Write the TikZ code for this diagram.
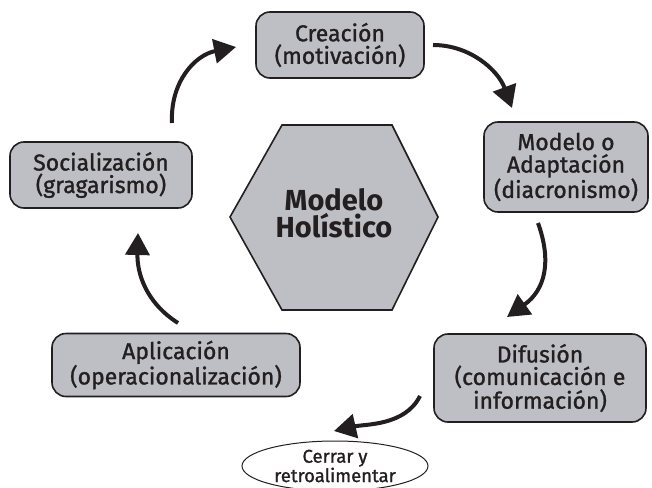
\documentclass[tikz,border=0pt]{standalone}
\usepackage{fontspec}
\setmainfont{Fira Sans}
\newfontfamily\boxfont{Fira Sans}[FakeBold=1.2]
\usetikzlibrary{arrows.meta,shapes.geometric}
\definecolor{boxgray}{RGB}{190,191,196}
\definecolor{inkgray}{RGB}{35,31,32}
\begin{document}
\begin{tikzpicture}[x=1pt,y=-1pt,
  box/.style={draw=inkgray, line width=1.6pt, fill=boxgray, rounded corners=14pt,
    align=center, inner sep=0pt, text=inkgray, font=\boxfont\fontsize{23}{22.5}\selectfont},
  hexa/.style={draw=inkgray, line width=1.6pt, fill=boxgray},
  arr/.style={draw=inkgray, line width=4pt, -{Triangle[length=22pt,width=24pt]}},
  closer/.style={draw=inkgray, line width=1pt, ellipse, align=center, inner sep=0pt,
    text=inkgray, font=\boxfont\fontsize{18.5}{17}\selectfont},
]
\useasboundingbox (0,0) rectangle (652,487);
% hexagon
\draw[hexa] (230,217) -- (282,125) -- (392,125) -- (438,217) -- (392,310) -- (282,310) -- cycle;
\node[align=center, text=inkgray, font=\fontsize{29}{27.5}\selectfont\bfseries] (hex) at (334,213) {Modelo\\Holístico};
% boxes
\node[box, minimum width=168pt, minimum height=66pt] (cre) at (340,45) {Creación\\(motivación)};
\node[box, minimum width=164pt, minimum height=90pt] (mod) at (566,167) {Modelo o\\Adaptación\\(diacronismo)};
\node[box, minimum width=212pt, minimum height=88pt] (dif) at (540,378) {Difusión\\(comunicación e\\información)};
\node[box, minimum width=248pt, minimum height=63pt] (apl) at (176,365) {Aplicación\\(operacionalización)};
\node[box, minimum width=182pt, minimum height=66pt] (soc) at (101,175) {Socialización\\(gragarismo)};
\node[closer, minimum width=186pt, minimum height=50pt] (cer) at (335,466) {Cerrar y\\retroalimentar};
% arrow end points
\coordinate (a1s) at (433,45);  \coordinate (a1e) at (512,108);
\coordinate (a2s) at (538,223); \coordinate (a2e) at (507,317);
\coordinate (a3s) at (420,396); \coordinate (a3e) at (334,431);
\coordinate (a4s) at (178,323); \coordinate (a4e) at (138,233);
\coordinate (a5s) at (172,123); \coordinate (a5e) at (236,47);
\draw[arr] (a1s) .. controls (470,45) and (498,70) .. (a1e);
\draw[arr] (a2s) .. controls (552,262) and (545,290) .. (a2e);
\draw[arr] (a3s) .. controls (405,426) and (365,424) .. (a3e);
\draw[arr] (a4s) .. controls (145,302) and (137,272) .. (a4e);
\draw[arr] (a5s) .. controls (170,82) and (195,55) .. (a5e);
\end{tikzpicture}
\end{document}
